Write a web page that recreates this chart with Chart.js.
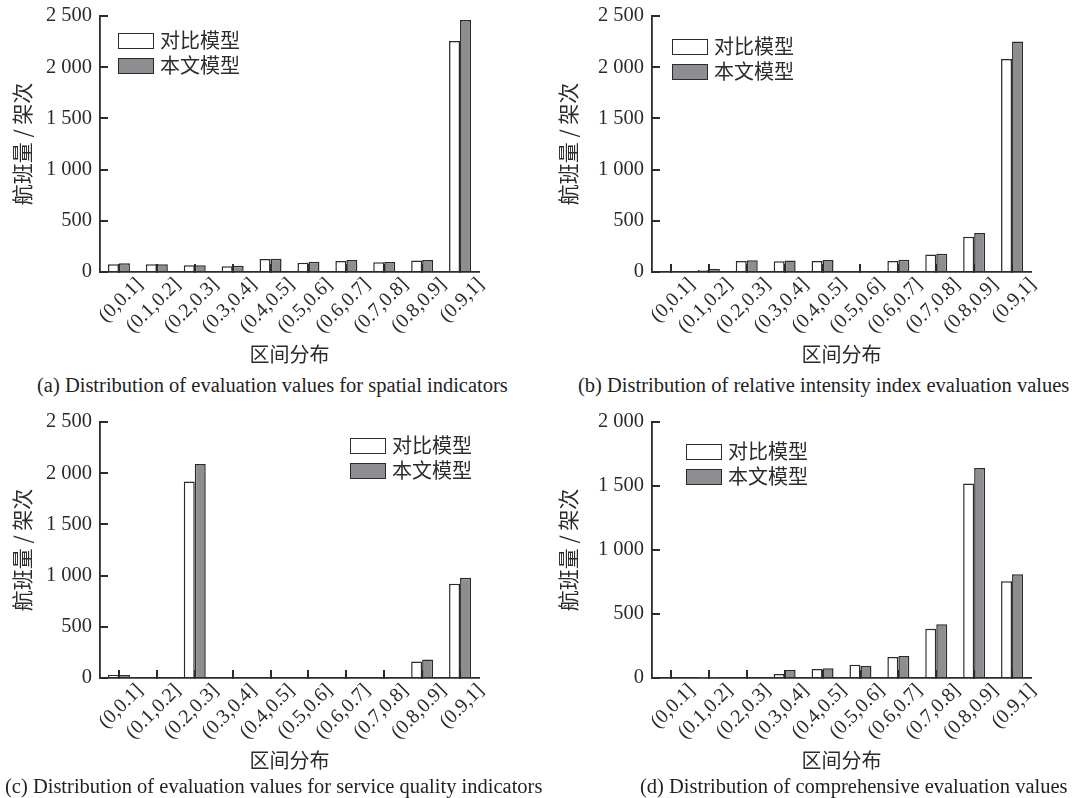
<!DOCTYPE html>
<html>
<head>
<meta charset="utf-8">
<script src="https://cdn.jsdelivr.net/npm/chart.js@4.4.1/dist/chart.umd.min.js"></script>
<style>
  body { margin: 0; background: #fff; }
  #wrap { position: relative; width: 1092px; height: 798px; overflow: hidden; }
  canvas { position: absolute; }
  .legend { position: absolute; font-family: "Noto Sans CJK SC", sans-serif; font-size: 20px; color: #2b2b2b; }
  .legend div { height: 25px; line-height: 25px; white-space: nowrap; }
  .legend span { display: inline-block; width: 34px; height: 14px; border: 1.5px solid #2b2b2b; vertical-align: middle; margin-right: 6px; position: relative; top: -2px; }
  .caption { position: absolute; font-family: "Liberation Serif", serif; font-size: 20.5px; color: #222; white-space: nowrap; }
</style>
</head>
<body>
<div id="wrap">
  <canvas id="chart_a" width="546" height="370" style="left:0;top:0"></canvas>
  <canvas id="chart_b" width="546" height="370" style="left:546px;top:0"></canvas>
  <canvas id="chart_c" width="546" height="370" style="left:0;top:406px"></canvas>
  <canvas id="chart_d" width="546" height="370" style="left:546px;top:406px"></canvas>

  <div class="legend" style="left:118px;top:27px"><div><span style="background:#fff"></span>对比模型</div><div><span style="background:#8e8e92"></span>本文模型</div></div>
  <div class="legend" style="left:672px;top:33px"><div><span style="background:#fff"></span>对比模型</div><div><span style="background:#8e8e92"></span>本文模型</div></div>
  <div class="legend" style="left:350px;top:432px"><div><span style="background:#fff"></span>对比模型</div><div><span style="background:#8e8e92"></span>本文模型</div></div>
  <div class="legend" style="left:686px;top:438px"><div><span style="background:#fff"></span>对比模型</div><div><span style="background:#8e8e92"></span>本文模型</div></div>

  <div class="caption" style="left:37px;top:374px">(a) Distribution of evaluation values for spatial indicators</div>
  <div class="caption" style="left:578px;top:374px">(b) Distribution of relative intensity index evaluation values</div>
  <div class="caption" style="left:5px;top:775px">(c) Distribution of evaluation values for service quality indicators</div>
  <div class="caption" style="left:640px;top:775px">(d) Distribution of comprehensive evaluation values</div>
</div>
<script>
const categories = ["(0,0.1]", "(0.1,0.2]", "(0.2,0.3]", "(0.3,0.4]", "(0.4,0.5]",
  "(0.5,0.6]", "(0.6,0.7]", "(0.7,0.8]", "(0.8,0.9]", "(0.9,1]"];

const spatialCompare = [75, 75, 65, 55, 127, 91, 107, 94, 113, 2255];
const spatialOurs = [85, 75, 65, 60, 130, 100, 117, 97, 117, 2460];

const intensityCompare = [0, 20, 108, 105, 108, 0, 108, 172, 345, 2080];
const intensityOurs = [0, 30, 115, 112, 118, 0, 120, 178, 380, 2250];

const serviceCompare = [30, 0, 1920, 0, 0, 0, 0, 0, 160, 920];
const serviceOurs = [30, 0, 2090, 0, 0, 0, 0, 0, 180, 980];

const overallCompare = [0, 3, 8, 31, 70, 104, 164, 385, 1520, 755];
const overallOurs = [0, 2, 8, 62, 76, 94, 172, 420, 1640, 810];

const seriesNames = ["对比模型", "本文模型"];
const yTitle = "航班量 / 架次";
const xTitle = "区间分布";

const ink = "#2b2b2b";
const grey = "#8e8e92";

function fmt(v) {
  if (v < 1000) return String(v);
  return Math.floor(v / 1000) + " " + String(v % 1000).padStart(3, "0");
}

// tick marks point into the plot: negative tick length, no grid lines
const innerGrid = {
  display: true,
  drawOnChartArea: false,
  drawTicks: true,
  tickLength: -8,
  offset: false,
  color: ink,
  lineWidth: 2
};

function makeChart(id, compare, ours, yMax, yWidth) {
  return new Chart(id, {
    type: "bar",
    data: {
      labels: categories,
      datasets: [
        { label: seriesNames[0], data: compare, backgroundColor: "#ffffff" },
        { label: seriesNames[1], data: ours, backgroundColor: grey }
      ]
    },
    options: {
      responsive: false,
      animation: false,
      events: [],
      layout: { padding: { top: 16, right: 546 - yWidth - 379, left: 0, bottom: 0 } },
      datasets: {
        bar: {
          borderColor: ink,
          borderWidth: 1.5,
          categoryPercentage: 0.58,
          barPercentage: 1.0
        }
      },
      plugins: { legend: { display: false }, tooltip: { enabled: false } },
      scales: {
        x: {
          grid: innerGrid,
          border: { color: ink, width: 1.8 },
          ticks: {
            color: ink,
            font: { family: "Liberation Serif", size: 20 },
            minRotation: 45,
            maxRotation: 45,
            autoSkip: false,
            labelOffset: 21,
            padding: 9
          },
          title: {
            display: true,
            text: xTitle,
            color: ink,
            font: { family: "Noto Sans CJK SC", size: 20 },
            padding: { top: 0, bottom: 4 }
          },
          afterFit(scale) {
            scale.height = 98;
            scale.paddingLeft = 0;
            scale.paddingRight = 0;
          }
        },
        y: {
          min: 0,
          max: yMax,
          grid: innerGrid,
          border: { color: ink, width: 1.8 },
          ticks: {
            stepSize: 500,
            color: ink,
            font: { family: "Liberation Serif", size: 20.5 },
            padding: 16,
            callback: (v) => fmt(v)
          },
          title: {
            display: true,
            text: yTitle,
            color: ink,
            font: { family: "Noto Sans CJK SC", size: 21 },
            padding: { top: 9, bottom: 0 }
          },
          afterFit(scale) {
            scale.width = yWidth;
            scale.paddingTop = 0;
            scale.paddingBottom = 0;
          }
        }
      }
    }
  });
}

makeChart("chart_a", spatialCompare, spatialOurs, 2500, 100);
makeChart("chart_b", intensityCompare, intensityOurs, 2500, 106);
makeChart("chart_c", serviceCompare, serviceOurs, 2500, 100);
makeChart("chart_d", overallCompare, overallOurs, 2000, 106);
</script>
</body>
</html>
